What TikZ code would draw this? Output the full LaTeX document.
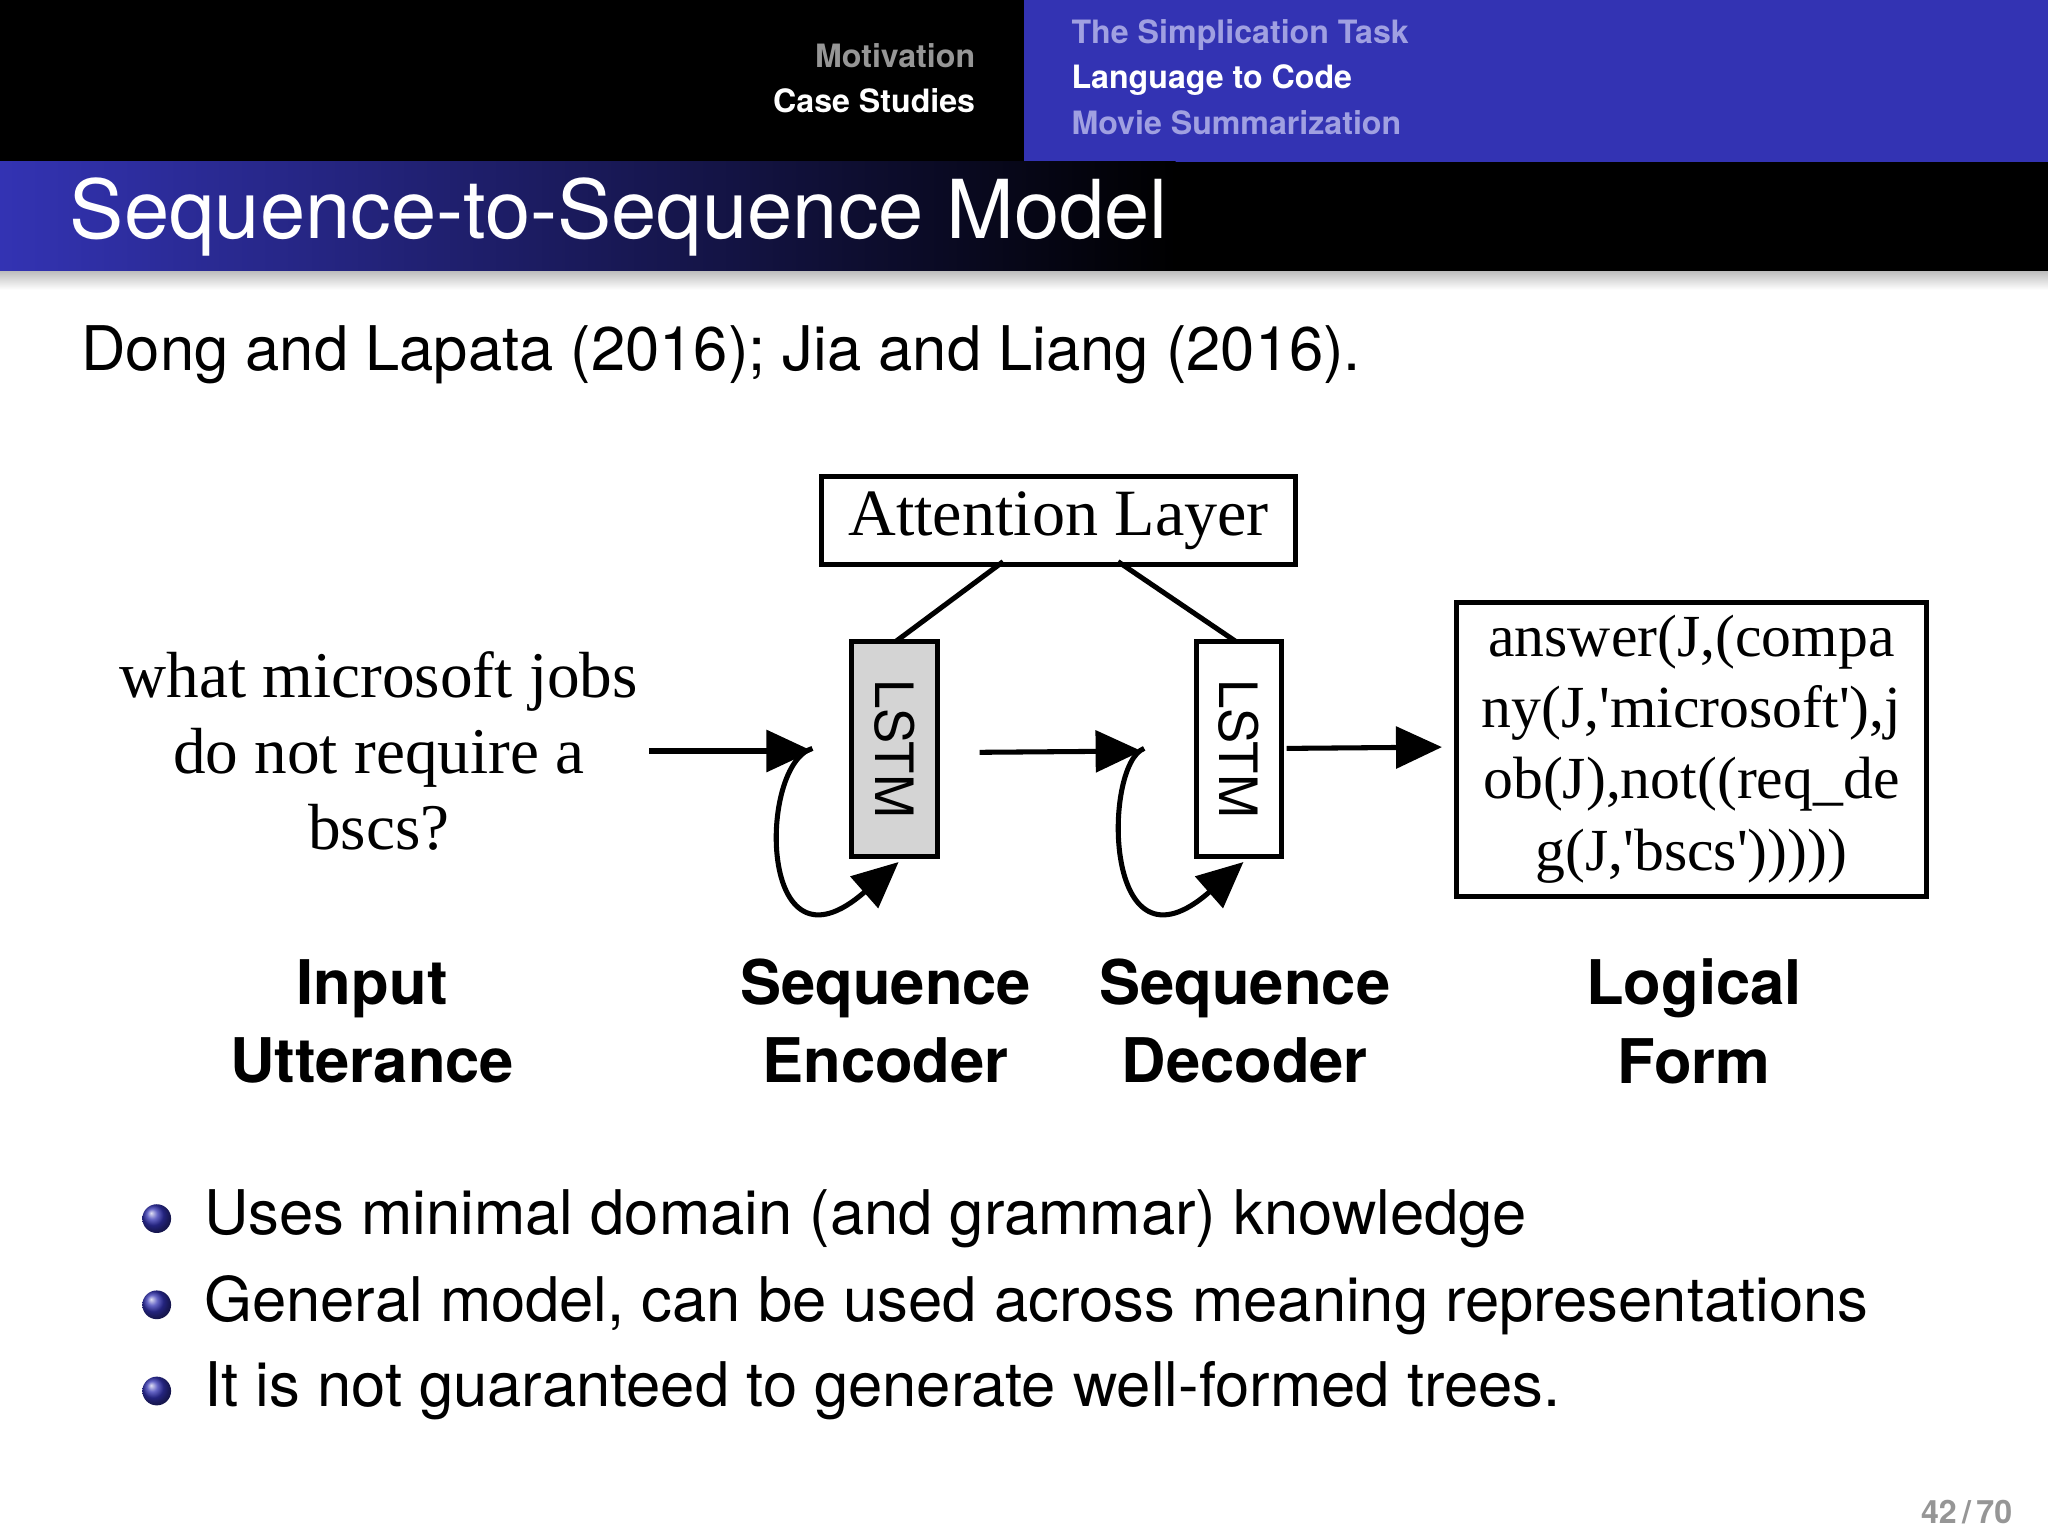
\documentclass[tikz,border=0pt]{standalone}
\usepackage{fontspec}
\setmainfont{TeX Gyre Heros}
\newfontfamily\serifff{Liberation Serif}
\usetikzlibrary{arrows.meta,shadings}
\definecolor{bblue}{RGB}{51,51,179}
\definecolor{navgray}{RGB}{150,150,150}
\definecolor{navblue}{RGB}{160,160,225}
\begin{document}
\begin{tikzpicture}[x=0.01cm,y=-0.01cm,
  ser/.style={font=\serifff\fontsize{14.2}{17.5}\selectfont,align=center},
  lbl/.style={font=\bfseries\fontsize{13.4}{17}\selectfont,align=center},
  bul/.style={font=\fontsize{13.4}{17}\selectfont,anchor=west},
  arr/.style={line width=1.1pt,-{Triangle[length=10pt,width=9pt]}},
  ln/.style={line width=1.1pt},
  ball/.style={circle,minimum size=0.22cm,inner sep=0,shading=ball,ball color=bblue}]
\useasboundingbox (0,0) rectangle (1568,1176);
\fill[white] (0,0) rectangle (1568,1176);
\fill[black] (0,0) rectangle (784,124);
\fill[bblue] (784,0) rectangle (1568,124);
\shade[left color=bblue,right color=black] (0,124) rectangle (900,208);
\fill[black] (899,124) rectangle (1568,208);
\shade[top color=black!25,bottom color=white] (0,208) rectangle (1568,222);
\node[anchor=east,text=navgray,font=\bfseries\fontsize{7}{9}\selectfont] (m1) at (759,43) {Motivation};
\node[anchor=east,text=white,font=\bfseries\fontsize{7}{9}\selectfont] (m2) at (759,77) {Case Studies};
\node[anchor=west,text=navblue,font=\bfseries\fontsize{7}{9}\selectfont] (s1) at (808,27) {The Simplication Task};
\node[anchor=west,text=white,font=\bfseries\fontsize{7}{9}\selectfont] (s2) at (808,61) {Language to Code};
\node[anchor=west,text=navblue,font=\bfseries\fontsize{7}{9}\selectfont] (s3) at (808,94) {Movie Summarization};
\node[anchor=west,text=white,font=\fontsize{17.7}{22}\selectfont] (title) at (41,166) {Sequence-to-Sequence Model};
\node[anchor=west,font=\fontsize{13.4}{17}\selectfont] (cite) at (50,272) {Dong and Lapata (2016); Jia and Liang (2016).};
% diagram
\node[draw,ln,minimum width=3.63cm,minimum height=0.63cm,ser,font=\serifff\fontsize{14.4}{18}\selectfont] (att) at (810.5,398.5) {Attention Layer};
\node[draw,ln,fill=black!17,minimum width=0.66cm,minimum height=1.65cm,inner sep=0] (enc) at (685,573.5) {};
\node[rotate=-90,ser,font=\fontsize{11.5}{14}\selectfont] (enct) at (685,573.5) {LSTM};
\node[draw,ln,fill=white,minimum width=0.65cm,minimum height=1.65cm,inner sep=0] (dec) at (948.5,573.5) {};
\node[rotate=-90,ser,font=\fontsize{11.5}{14}\selectfont] (dect) at (948.5,573.5) {LSTM};
\draw[ln] (768,430) -- (686,491);
\draw[ln] (856,430) -- (946,491);
\node[ser] (inp) at (290,575) {what microsoft jobs\\[-1pt] do not require a\\[-1pt] bscs?};
\node[draw,ln,minimum width=3.6cm,minimum height=2.25cm,ser,font=\serifff\fontsize{13}{15.5}\selectfont,inner sep=2pt] (lf) at (1295,573.5) {answer(J,(compa\\ny(J,'microsoft'),j\\ob(J),not((req\_de\\g(J,'bscs')))))};
\coordinate (a1s) at (497,575); \coordinate (a1e) at (622,575);
\coordinate (a2s) at (750,576); \coordinate (a2e) at (874,575);
\coordinate (a3s) at (985,573); \coordinate (a3e) at (1104,572);
\draw[arr] (a1s) -- (a1e);
\draw[arr] (a2s) -- (a2e);
\draw[arr] (a3s) -- (a3e);
\draw[arr] (622,573) .. controls (580,585) and (580,755) .. (688,660);
\draw[arr] (876,573) .. controls (844,585) and (844,755) .. (952,660);
\node[lbl] (l1) at (285,782) {Input\\Utterance};
\node[lbl] (l2) at (678,782) {Sequence\\Encoder};
\node[lbl] (l3) at (953,782) {Sequence\\Decoder};
\node[lbl] (l4) at (1297,782) {Logical\\Form};
\node[ball] (b1) at (120,933) {};
\node[ball] (b2) at (120,999) {};
\node[ball] (b3) at (120,1065) {};
\node[bul] (t1) at (144,933) {Uses minimal domain (and grammar) knowledge};
\node[bul] (t2) at (144,999) {General model, can be used across meaning representations};
\node[bul] (t3) at (144,1065) {It is not guaranteed to generate well-formed trees.};
\node[anchor=east,text=navgray,font=\bfseries\fontsize{7}{8}\selectfont] (pg) at (1553,1158) {42\,/\,70};
\end{tikzpicture}
\end{document}
